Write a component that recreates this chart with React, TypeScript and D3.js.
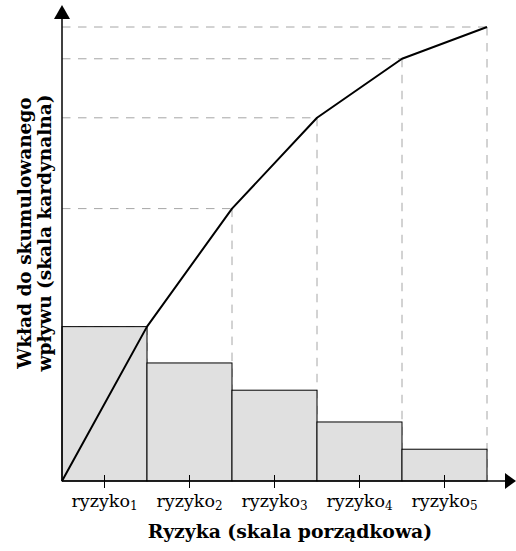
import React from 'react';
import * as d3 from 'd3';

// risk categories (ordinal) and their share of total impact (%)
const categories = ['ryzyko1', 'ryzyko2', 'ryzyko3', 'ryzyko4', 'ryzyko5'];
const subscripts = ['1', '2', '3', '4', '5'];
const contributions = [34, 26, 20, 13, 7];

const xTitle = 'Ryzyka (skala porządkowa)';
const yTitleLines = ['Wkład do skumulowanego', 'wpływu (skala kardynalna)'];

const W = 516;
const H = 551;
const font = '"DejaVu Serif", "Liberation Serif", serif';

const App: React.FC = () => {
  const x = d3.scaleBand<string>().domain(categories).range([62, 487]).paddingInner(0).paddingOuter(0);
  const y = d3.scaleLinear().domain([0, 100]).range([481, 27]);

  const cumulative = d3.cumsum(contributions);
  // polyline starts at origin and ends on right edge of each bar
  const pts: [number, number][] = [[x.range()[0], y(0)]];
  categories.forEach((c, i) => pts.push([(x(c) || 0) + x.bandwidth(), y(cumulative[i])]));
  const line = d3.line();

  const x0 = x.range()[0];
  const yBase = y(0);

  return (
    <svg width={W} height={H} style={{ position: 'absolute', left: 0, top: 0, background: '#fff' }} fontFamily={font}>
      {/* guide lines */}
      {pts.slice(1).map(([px, py], i) => (
        <g key={'g' + i} stroke="#a6a6a6" strokeWidth={1} strokeDasharray="8.5,7.5" fill="none">
          <line x1={x0} x2={px} y1={py} y2={py} />
          <line x1={px} x2={px} y1={py} y2={yBase} />
        </g>
      ))}

      {/* bars */}
      {categories.map((c, i) => (
        <rect
          key={c}
          x={x(c)}
          y={y(contributions[i])}
          width={x.bandwidth()}
          height={yBase - y(contributions[i])}
          fill="#e0e0e0"
          stroke="#000"
          strokeWidth={1}
        />
      ))}

      {/* cumulative line */}
      <path d={line(pts) || ''} fill="none" stroke="#000" strokeWidth={2} strokeLinejoin="round" />

      {/* axes */}
      <line x1={x0} x2={506} y1={yBase} y2={yBase} stroke="#000" strokeWidth={1.5} />
      <path d={`M516,${yBase} L505,${yBase - 8} L505,${yBase + 8} Z`} fill="#000" />
      <line x1={x0} x2={x0} y1={yBase} y2={18} stroke="#000" strokeWidth={1.5} />
      <path d={`M${x0},5 L${x0 - 8},19 L${x0 + 8},19 Z`} fill="#000" />

      {/* ticks + labels */}
      {categories.map((c, i) => {
        const cx = (x(c) || 0) + x.bandwidth() / 2;
        return (
          <g key={'t' + c}>
            <line x1={cx} x2={cx} y1={yBase - 6} y2={yBase + 7} stroke="#000" strokeWidth={1} />
            <text x={cx} y={507} textAnchor="middle" fontSize={17.5} fill="#000">
              ryzyko
              <tspan fontSize={12} dy={3}>{subscripts[i]}</tspan>
            </text>
          </g>
        );
      })}

      <text x={290} y={538} textAnchor="middle" fontSize={18.8} fontWeight="bold" fill="#000">
        {xTitle}
      </text>

      {yTitleLines.map((t, i) => (
        <text
          key={t}
          transform={`translate(${31 + i * 20},233) rotate(-90)`}
          textAnchor="middle"
          fontSize={18.5}
          fontWeight="bold"
          fill="#000"
        >
          {t}
        </text>
      ))}
    </svg>
  );
};

export default App;
